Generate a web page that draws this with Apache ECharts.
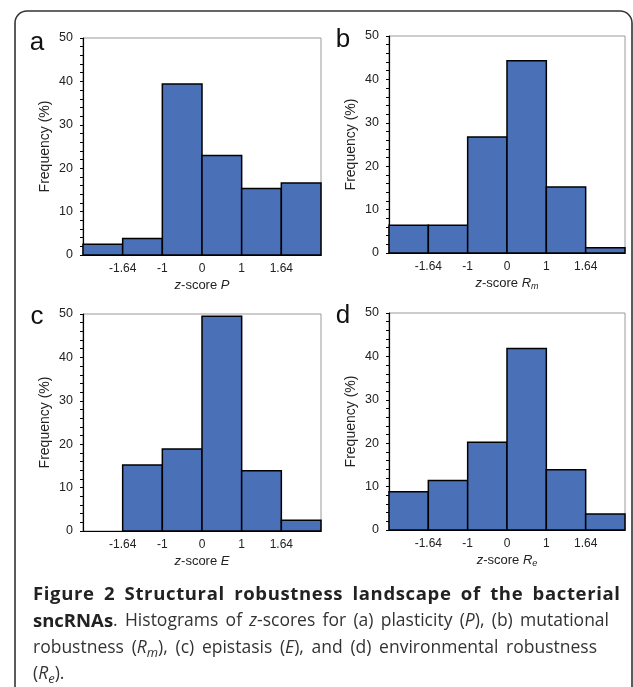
<!DOCTYPE html>
<html><head><meta charset="utf-8">
<script src="https://cdn.jsdelivr.net/npm/echarts@6/dist/echarts.min.js"></script>
<style>html,body{margin:0;padding:0;background:#fff}#c{width:633px;height:687px}</style>
</head><body><div id="c"></div>
<script>
// ---- data ----
const xTickLabels = ["-1.64", "-1", "0", "1", "1.64"];
const freqP  = [2.5, 3.8, 39.4, 22.9, 15.3, 16.6];
const freqRm = [6.4, 6.4, 26.7, 44.3, 15.2, 1.2];
const freqE  = [0, 15.2, 18.9, 49.5, 13.9, 2.5];
const freqRe = [8.8, 11.4, 20.2, 41.8, 13.9, 3.7];
const panelLetters = ["a", "b", "c", "d"];

const FONT = "'Liberation Sans', Arial, sans-serif";
const CAP = "'Open Sans', sans-serif";
const BAR = '#4a70b7';

const panels = [
  {vals: freqP,  letter: panelLetters[0], left: 83,  top: 38,  w: 238, h: 217, ly: 43,  name: [['z','i'],['-score ',''],['P','i']]},
  {vals: freqRm, letter: panelLetters[1], left: 389, top: 36,  w: 236, h: 217, ly: 40,  name: [['z','i'],['-score ',''],['R','i'],['m','s']]},
  {vals: freqE,  letter: panelLetters[2], left: 83,  top: 314, w: 238, h: 217, ly: 317, name: [['z','i'],['-score ',''],['E','i']]},
  {vals: freqRe, letter: panelLetters[3], left: 389, top: 313, w: 236, h: 217, ly: 316, name: [['z','i'],['-score ',''],['R','i'],['e','s']]}
];

const grids = [], xAxes = [], yAxes = [], series = [];
panels.forEach((p, k) => {
  grids.push({left: p.left, top: p.top, width: p.w, height: p.h, show: true,
    borderColor: '#9a9a9a', borderWidth: 1, backgroundColor: 'transparent', containLabel: false});
  xAxes.push({type: 'value', gridIndex: k, min: 0, max: 6, interval: 1,
    axisLine: {show: true, onZero: false, lineStyle: {color: '#000', width: 1.2}},
    axisTick: {show: false}, splitLine: {show: false},
    axisLabel: {show: true, margin: 8, fontFamily: FONT, fontSize: 12, color: '#222',
      formatter: v => (v >= 1 && v <= 5) ? xTickLabels[v - 1] : ''}
  });
  yAxes.push({type: 'value', gridIndex: k, min: 0, max: 50, interval: 10,
    name: 'Frequency (%)', nameLocation: 'middle', nameGap: 31, nameRotate: 90,
    nameTextStyle: {fontFamily: FONT, fontSize: 14, color: '#222'},
    axisLine: {show: true, lineStyle: {color: '#000', width: 1.2}},
    axisTick: {show: true, length: 3, lineStyle: {color: '#000'}},
    minorTick: {show: true, splitNumber: 5, length: 3, lineStyle: {color: '#000'}},
    splitLine: {show: false},
    axisLabel: {margin: 10, fontFamily: FONT, fontSize: 12.5, color: '#222'}
  });
  series.push({type: 'custom', xAxisIndex: k, yAxisIndex: k,
    data: p.vals.map((v, i) => [i, v]),
    encode: {x: 0, y: 1},
    renderItem: function (params, api) {
      const i = api.value(0), v = api.value(1);
      if (v <= 0) return;
      const a = api.coord([i, v]), b = api.coord([i + 1, 0]);
      return {type: 'rect', shape: {x: a[0], y: a[1], width: b[0] - a[0], height: b[1] - a[1]},
        style: {fill: BAR, stroke: '#000', lineWidth: 1.5}};
    }
  });
});

// ---- text layout helpers ----
const cv = document.createElement('canvas').getContext('2d');
function fontStr(st, size, fam) {
  const bold = st.indexOf('b') >= 0 ? 'bold ' : '';
  const it = (st.indexOf('i') >= 0 || st.indexOf('s') >= 0) ? 'italic ' : '';
  return it + bold + size + 'px ' + fam;
}
function segEls(segs, x0, y, size, fam, color, target, opts) {
  opts = opts || {};
  const boldSize = opts.boldSize || size;
  const perChar = !!opts.perChar;
  const spaceW = opts.spaceWeight == null ? 1 : opts.spaceWeight;
  const sz = st => st.indexOf('s') >= 0 ? Math.round(size * 0.72) : (st.indexOf('b') >= 0 ? boldSize : size);
  const toks = [];
  segs.forEach(([t, st]) => {
    if (perChar) { Array.from(t).forEach(ch => toks.push([ch, st])); }
    else t.split(/( )/).forEach(part => { if (part !== '') toks.push([part, st]); });
  });
  let natural = 0, nSpaces = 0;
  toks.forEach(([t, st]) => {
    cv.font = fontStr(st, sz(st), fam);
    natural += cv.measureText(t).width;
    if (t === ' ') nSpaces++;
  });
  let unitChar = 0, unitSpace = 0;
  if (target) {
    if (perChar) {
      const gaps = toks.length - 1;
      const u = (target - natural) / (gaps + spaceW * nSpaces);
      unitChar = u; unitSpace = u * spaceW;
    } else if (nSpaces) {
      unitSpace = (target - natural) / nSpaces;
    }
  }
  const els = [];
  let x = x0;
  toks.forEach(([t, st]) => {
    const s = sz(st);
    cv.font = fontStr(st, s, fam);
    const w = cv.measureText(t).width;
    if (t === ' ') { x += w + unitSpace + (perChar ? unitChar : 0); return; }
    els.push({type: 'text', x: x, y: y + (st.indexOf('s') >= 0 ? size * 0.3 : 0), silent: true,
      style: {text: t, font: fontStr(st, s, fam), fill: st.indexOf('b') >= 0 ? '#222' : color,
        textAlign: 'left', verticalAlign: 'middle', textVerticalAlign: 'middle'}});
    x += w + (perChar ? unitChar : 0);
  });
  return els;
}

const graphics = [];
// outer frame
graphics.push({type: 'rect', shape: {x: 15, y: 11, width: 617, height: 720, r: 12}, silent: true,
  style: {fill: 'none', stroke: '#333', lineWidth: 1.6}});

// panel letters
panels.forEach(p => {
  graphics.push({type: 'text', x: p.left - 46, y: p.ly, silent: true,
    style: {text: p.letter, font: '26px ' + FONT, fill: '#111', textAlign: 'center', verticalAlign: 'middle', textVerticalAlign: 'middle'}});
});

// x-axis names
panels.forEach(p => {
  const cx = p.left + p.w / 2;
  let tw = 0;
  p.name.forEach(([t, st]) => { cv.font = fontStr(st, st.indexOf('s') >= 0 ? 9 : 13, FONT); tw += cv.measureText(t).width; });
  segEls(p.name, cx - tw / 2, p.top + p.h + 30, 13, FONT, '#222', null).forEach(e => graphics.push(e));
});

// caption
const capLines = [
  {segs: [['Figure 2 Structural robustness landscape of the bacterial', 'b']], y: 595, end: 620, perChar: true},
  {segs: [['sncRNAs', 'b'], ['. Histograms of ', ''], ['z', 'i'], ['-scores for (a) plasticity (', ''], ['P', 'i'], ['), (b) mutational', '']], y: 621.5, end: 609},
  {segs: [['robustness (', ''], ['R', 'i'], ['m', 's'], ['), (c) epistasis (', ''], ['E', 'i'], ['), and (d) environmental robustness', '']], y: 648, end: 597},
  {segs: [['(', ''], ['R', 'i'], ['e', 's'], [').', '']], y: 674.5, end: null}
];
capLines.forEach(l => {
  segEls(l.segs, 33, l.y, 17.5, CAP, '#333', l.end ? l.end - 33 : null,
    {boldSize: 18.5, perChar: !!l.perChar, spaceWeight: 6}).forEach(e => graphics.push(e));
});

const chart = echarts.init(document.getElementById('c'), null, {renderer: 'canvas'});
chart.setOption({
  animation: false,
  backgroundColor: '#fff',
  grid: grids, xAxis: xAxes, yAxis: yAxes, series: series,
  graphic: graphics
});
</script>
</body></html>
